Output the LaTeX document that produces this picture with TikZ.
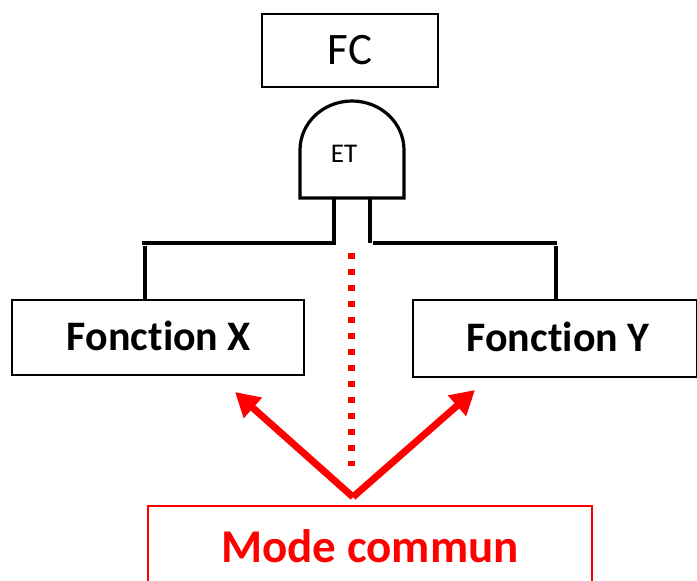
\documentclass[tikz,border=0pt]{standalone}
\usepackage{fontspec}
\setmainfont[Ligatures=NoCommon]{Carlito}
\usetikzlibrary{arrows.meta}
\tikzset{
	box/.style={draw,line width=1.8pt,inner sep=0pt},
	leg/.style={line width=3.2pt},
	redarrow/.style={red,line width=7pt,-{Triangle[length=24pt,width=26pt]}}
}
\begin{document}
\begin{tikzpicture}[x=1pt,y=-1pt]
	\useasboundingbox (0,0) rectangle (697,581);
	\node[box,minimum width=176pt,minimum height=73pt,font=\fontsize{45}{45}\selectfont] (fc) at (350,50.5) {FC};
	\node[box,minimum width=292pt,minimum height=75pt] (fx) at (158,337.5) {};
	\node[font=\fontsize{42}{42}\selectfont\bfseries] (fxt) at (159,336) {Fonction X};
	\node[box,minimum width=284pt,minimum height=77pt] (fy) at (555,338.5) {};
	\node[font=\fontsize{42}{42}\selectfont\bfseries] (fyt) at (558,337) {Fonction Y};
	\node[draw=red,line width=1.8pt,minimum width=444pt,minimum height=84pt] (mc) at (370,548) {};
	\node[red,font=\fontsize{47}{47}\selectfont\bfseries] (mct) at (370,546) {Mode commun};
	% porte ET
	\draw[line width=3.2pt] (300,198) -- (300,150) arc[start angle=180,end angle=360,x radius=52,y radius=49] -- (404,198) -- cycle;
	\node[font=\fontsize{27}{27}\selectfont] (et) at (344,154) {ET};
	\coordinate (gl) at (334,198);
	\coordinate (gr) at (370,198);
	\draw[leg] (gl) -- (334,243) -- (142,243);
	\draw[leg] (gr) -- (370,243);
	\draw[leg] (373,243) -- (557,243);
	\draw[leg] (145,246) -- (fx.north -| 145,0);
	\draw[leg] (556,246) -- (fy.north -| 556,0);
	% mode commun
	\draw[red,line width=7pt,dash pattern=on 6pt off 10pt] (351,253) -- (351,466);
	\coordinate (apex) at (353,497);
	\coordinate (tipx) at (235,392);
	\coordinate (tipy) at (475,390);
	\draw[redarrow] (apex) -- (tipx);
	\draw[redarrow] (apex) -- (tipy);
\end{tikzpicture}
\end{document}
